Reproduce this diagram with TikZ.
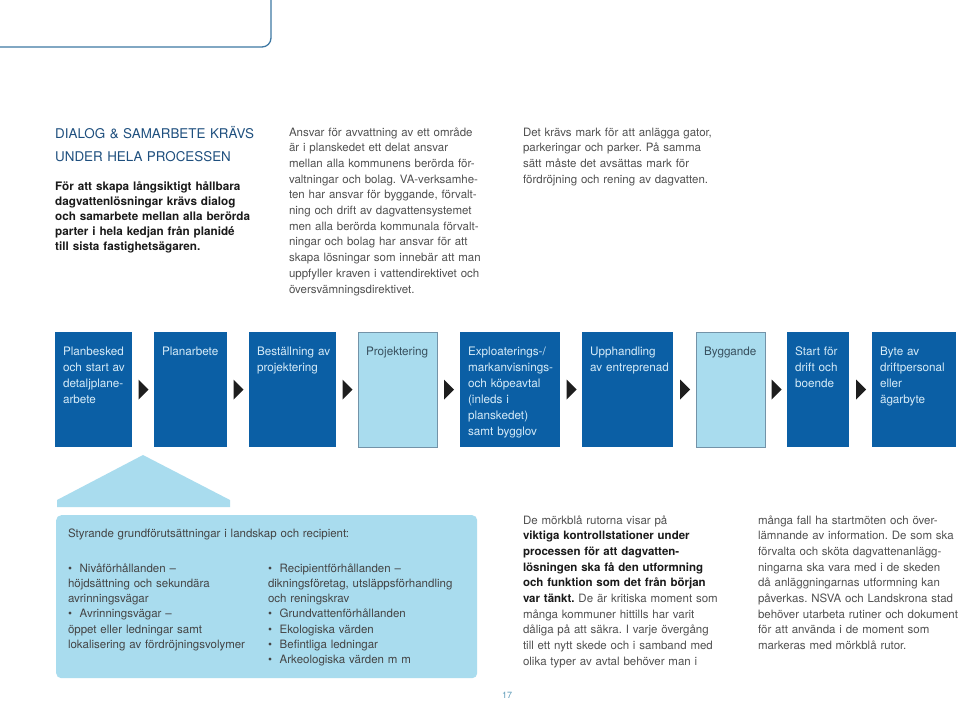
\documentclass[tikz,border=0pt]{standalone}
\usepackage{fontspec}
\setmainfont{TeX Gyre Heros}
\usetikzlibrary{calc}
\frenchspacing
\definecolor{darkbox}{HTML}{0B5FA5}
\definecolor{lightbox}{HTML}{A9DCEE}
\definecolor{lightedge}{HTML}{7393A8}
\definecolor{headblue}{HTML}{1E4F7E}
\definecolor{bodygray}{HTML}{505050}
\definecolor{boldblack}{HTML}{1A1A1A}
\definecolor{frameblue}{HTML}{3E78A3}
\definecolor{boxtext}{HTML}{D5EBF8}
\definecolor{lighttext}{HTML}{38505E}
\definecolor{arrowblack}{HTML}{1E1E1E}
\definecolor{pagenum}{HTML}{5C9AB8}
\begin{document}
\begin{tikzpicture}[x=1pt,y=-1pt,
  bodytext/.style={anchor=base west, inner sep=0pt, outer sep=0pt, text width=260pt, align=left,
    font=\fontsize{11.5}{15.7}\selectfont, text=bodygray},
  stagebox/.style={anchor=north west, inner sep=0pt, outer sep=0pt, minimum height=115pt, fill=darkbox, draw=none},
  lightstage/.style={stagebox, fill=lightbox, draw=lightedge, line width=0.6pt},
  stagetext/.style={anchor=base west, inner sep=0pt, outer sep=0pt, text width=110pt, align=left,
    font=\fontsize{11.7}{16}\selectfont, text=boxtext},
  lightstagetext/.style={stagetext, text=lighttext},
  condtext/.style={anchor=base west, inner sep=0pt, outer sep=0pt, text width=400pt, align=left,
    font=\fontsize{11.5}{15.3}\selectfont, text=bodygray!85!black}
]
\useasboundingbox (0,0) rectangle (960,702);
\fill[white] (0,0) rectangle (960,702);

% top-left frame
\draw[frameblue, line width=1.3pt, rounded corners=9pt] (-3,47) -- (271,47) -- (271,-3);

% heading and intro
\node[anchor=base west, inner sep=0pt, text width=260pt, align=left,
  font=\fontsize{13.4}{23}\selectfont, text=headblue] (head) at (55,138)
  {DIALOG \& SAMARBETE KRÄVS\\UNDER HELA PROCESSEN};
\node[anchor=base west, inner sep=0pt, text width=260pt, align=left,
  font=\fontsize{11.7}{15}\selectfont\bfseries, text=boldblack] (intro) at (55,190)
  {För att skapa långsiktigt hållbara\\dagvattenlösningar krävs dialog\\och samarbete mellan alla berörda\\parter i hela kedjan från planidé\\till sista fastighetsägaren.};

\node[bodytext] (ansvar) at (289,136)
  {Ansvar för avvattning av ett område\\är i planskedet ett delat ansvar\\mellan alla kommunens berörda för-\\valtningar och bolag. VA-verksamhe-\\ten har ansvar för byggande, förvalt-\\ning och drift av dagvattensystemet\\men alla berörda kommunala förvalt-\\ningar och bolag har ansvar för att\\skapa lösningar som innebär att man\\uppfyller kraven i vattendirektivet och\\översvämningsdirektivet.};

\node[bodytext] (mark) at (523,136)
  {Det krävs mark för att anlägga gator,\\parkeringar och parker. På samma\\sätt måste det avsättas mark för\\fördröjning och rening av dagvatten.};

% process boxes
\node[stagebox, minimum width=77pt] (b1) at (55,332) {};
\node[stagebox, minimum width=73pt] (b2) at (154,332) {};
\node[stagebox, minimum width=87pt] (b3) at (249,332) {};
\node[lightstage, minimum width=79pt] (b4) at (358,332) {};
\node[stagebox, minimum width=100pt] (b5) at (460,332) {};
\node[stagebox, minimum width=91pt] (b6) at (582,332) {};
\node[lightstage, minimum width=69pt] (b7) at (696,332) {};
\node[stagebox, minimum width=62pt] (b8) at (787,332) {};
\node[stagebox, minimum width=84pt] (b9) at (872,332) {};

\node[stagetext] (t1) at ($(b1.north west)+(8,23)$) {Planbesked\\och start av\\detaljplane-\\arbete};
\node[stagetext] (t2) at ($(b2.north west)+(8,23)$) {Planarbete};
\node[stagetext] (t3) at ($(b3.north west)+(8,23)$) {Beställning av\\projektering};
\node[lightstagetext] (t4) at ($(b4.north west)+(8,23)$) {Projektering};
\node[stagetext] (t5) at ($(b5.north west)+(8,23)$) {Exploaterings-/\\markanvisnings-\\och köpeavtal\\(inleds i\\planskedet)\\samt bygglov};
\node[stagetext] (t6) at ($(b6.north west)+(8,23)$) {Upphandling\\av entreprenad};
\node[lightstagetext] (t7) at ($(b7.north west)+(8,23)$) {Byggande};
\node[stagetext] (t8) at ($(b8.north west)+(8,23)$) {Start för\\drift och\\boende};
\node[stagetext] (t9) at ($(b9.north west)+(8,23)$) {Byte av\\driftpersonal\\eller\\ägarbyte};

% arrows between boxes
\foreach \a/\b in {b1/b2,b2/b3,b3/b4,b4/b5,b5/b6,b6/b7,b7/b8,b8/b9}{
  \fill[arrowblack] ($(\a.east)!0.5!(\b.west)+(-4.5,-10)$) -- ++(10,10) -- ++(-10,10) -- cycle;
}

% house shape and conditions box
\fill[lightbox] (57,507) -- (57,500) -- (143,455) -- (230,500) -- (230,507) -- cycle;
\node[anchor=north west, inner sep=0pt, minimum width=421pt, minimum height=163pt,
  fill=lightbox, rounded corners=5pt] (cond) at (56,515) {};
\node[condtext] (condtitle) at ($(cond.north west)+(12,22)$)
  {Styrande grundförutsättningar i landskap och recipient:};
\node[condtext] (condleft) at ($(cond.north west)+(12,57)$)
  {•\ \ Nivåförhållanden –\\höjdsättning och sekundära\\avrinningsvägar\\•\ \ Avrinningsvägar –\\öppet eller ledningar samt\\lokalisering av fördröjningsvolymer};
\node[condtext] (condright) at ($(cond.north west)+(212,57)$)
  {•\ \ Recipientförhållanden –\\dikningsföretag, utsläppsförhandling\\och reningskrav\\•\ \ Grundvattenförhållanden\\•\ \ Ekologiska värden\\•\ \ Befintliga ledningar\\•\ \ Arkeologiska värden m m};

% bottom text columns
\node[bodytext] (dark) at (523,524)
  {De mörkblå rutorna visar på\\\textcolor{boldblack}{\bfseries viktiga kontrollstationer under}\\\textcolor{boldblack}{\bfseries processen för att dagvatten-}\\\textcolor{boldblack}{\bfseries lösningen ska få den utformning}\\\textcolor{boldblack}{\bfseries och funktion som det från början}\\\textcolor{boldblack}{\bfseries var tänkt.} De är kritiska moment som\\många kommuner hittills har varit\\dåliga på att säkra. I varje övergång\\till ett nytt skede och i samband med\\olika typer av avtal behöver man i};

\node[bodytext] (cont) at (758,524)
  {många fall ha startmöten och över-\\lämnande av information. De som ska\\förvalta och sköta dagvattenanlägg-\\ningarna ska vara med i de skeden\\då anläggningarnas utformning kan\\påverkas. NSVA och Landskrona stad\\behöver utarbeta rutiner och dokument\\för att använda i de moment som\\markeras med mörkblå rutor.};

\node[anchor=base, inner sep=0pt, font=\fontsize{9}{10}\selectfont, text=pagenum] (page) at (507,698) {17};
\end{tikzpicture}
\end{document}
